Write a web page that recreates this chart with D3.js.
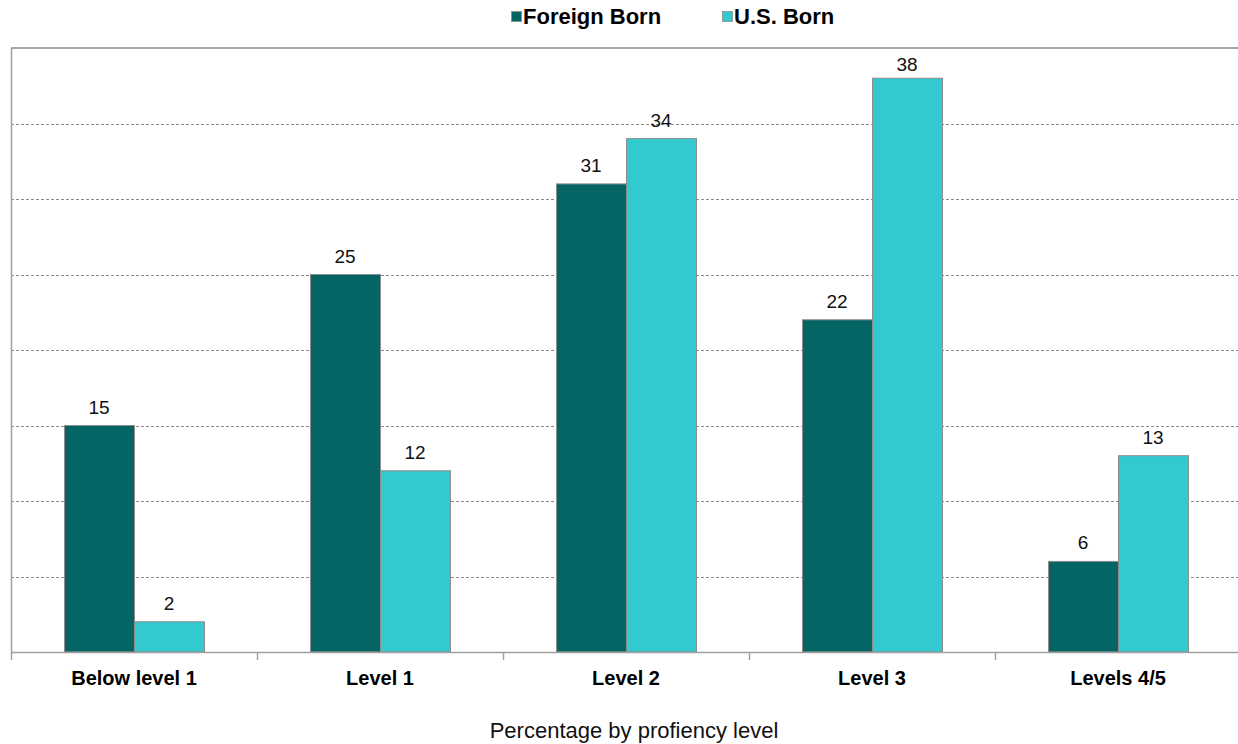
<!DOCTYPE html>
<html>
<head>
<meta charset="utf-8">
<script src="https://cdn.jsdelivr.net/npm/d3@7"></script>
<style>
  html, body { margin: 0; padding: 0; background: #fff; }
  svg { display: block; font-family: "Liberation Sans", Arial, sans-serif; }
</style>
</head>
<body>
<svg id="chart" width="1238" height="744"></svg>
<script>
// Literacy proficiency, percentage of adults by level
const categories = ["Below level 1", "Level 1", "Level 2", "Level 3", "Levels 4/5"];
const seriesNames = ["Foreign Born", "U.S. Born"];
const foreignBorn = [15, 25, 31, 22, 6];
const usBorn = [2, 12, 34, 38, 13];
const gridValues = [5, 10, 15, 20, 25, 30, 35];
const xTitle = "Percentage by profiency level";

const colors = ["#046564", "#33CACF"];
const seriesValues = [foreignBorn, usBorn];

const svg = d3.select("#chart");
const plot = { left: 11, right: 1241, top: 48, bottom: 652 };

const x = d3.scaleBand().domain(categories).range([plot.left, plot.right]).paddingInner(0).paddingOuter(0);
const inner = d3.scaleBand().domain(seriesNames).range([53, x.bandwidth() - 53]).padding(0);
const y = d3.scaleLinear().domain([0, 40]).range([plot.bottom, plot.top]);

// dashed gridlines
svg.append("g").selectAll("line").data(gridValues).join("line")
  .attr("x1", plot.left).attr("x2", plot.right)
  .attr("y1", d => Math.round(y(d)) + 0.5).attr("y2", d => Math.round(y(d)) + 0.5)
  .attr("stroke", "#8a8a8a").attr("stroke-width", 1).attr("stroke-dasharray", "3,2");

// plot frame: top border and left axis
svg.append("line").attr("x1", plot.left).attr("x2", plot.right)
  .attr("y1", plot.top).attr("y2", plot.top).attr("stroke", "#a6a6a6").attr("stroke-width", 2);
svg.append("line").attr("x1", plot.left + 0.5).attr("x2", plot.left + 0.5)
  .attr("y1", plot.top).attr("y2", plot.bottom).attr("stroke", "#a0a0a0").attr("stroke-width", 1.5);

// bars
const groups = svg.append("g").selectAll("g").data(categories).join("g")
  .attr("transform", d => `translate(${x(d)},0)`);

const barData = (c, i) => seriesNames.map((s, k) => ({ s, k, v: seriesValues[k][i] }));

groups.selectAll("rect")
  .data(barData)
  .join("rect")
  .attr("x", d => inner(d.s) + 0.5)
  .attr("width", inner.bandwidth())
  .attr("y", d => y(d.v))
  .attr("height", d => y(0) - y(d.v))
  .attr("fill", d => colors[d.k])
  .attr("stroke", "#8c8c8c").attr("stroke-width", 1);

// value labels above bars, kept inside the plot frame
groups.selectAll("text.val")
  .data(barData)
  .join("text")
  .attr("class", "val")
  .attr("x", d => inner(d.s) + inner.bandwidth() / 2)
  .attr("y", d => Math.max(y(d.v) - 12, plot.top + 23))
  .attr("text-anchor", "middle")
  .attr("font-size", 19).attr("fill", "#111")
  .text(d => d.v);

// x axis
const xAxis = svg.append("g").attr("transform", `translate(0,${plot.bottom})`);
xAxis.append("line").attr("x1", plot.left).attr("x2", plot.right).attr("y1", 0.5).attr("y2", 0.5)
  .attr("stroke", "#a0a0a0").attr("stroke-width", 1.5);
xAxis.selectAll("line.tick").data(categories.concat([null])).join("line")
  .attr("class", "tick")
  .attr("x1", d => (d === null ? plot.right : x(d)) + 0.5)
  .attr("x2", d => (d === null ? plot.right : x(d)) + 0.5)
  .attr("y1", 0).attr("y2", 8).attr("stroke", "#a0a0a0").attr("stroke-width", 1.5);
xAxis.selectAll("text").data(categories).join("text")
  .attr("x", d => x(d) + x.bandwidth() / 2)
  .attr("y", 33)
  .attr("text-anchor", "middle")
  .attr("font-size", 20).attr("font-weight", "bold").attr("fill", "#000")
  .text(d => d);

svg.append("text").attr("x", 634).attr("y", 738).attr("text-anchor", "middle")
  .attr("font-size", 22).attr("fill", "#111").text(xTitle);

// legend
const legendPos = [511, 722];
const legend = svg.append("g").selectAll("g").data(seriesNames).join("g")
  .attr("transform", (d, i) => `translate(${legendPos[i]},0)`);
legend.append("rect").attr("x", 0.5).attr("y", 11.5).attr("width", 10).attr("height", 10)
  .attr("fill", (d, i) => colors[i]).attr("stroke", "#8c8c8c").attr("stroke-width", 0.8);
legend.append("text").attr("x", 12).attr("y", 24)
  .attr("font-size", 22).attr("font-weight", "bold").attr("fill", "#000")
  .text(d => d);
</script>
</body>
</html>
